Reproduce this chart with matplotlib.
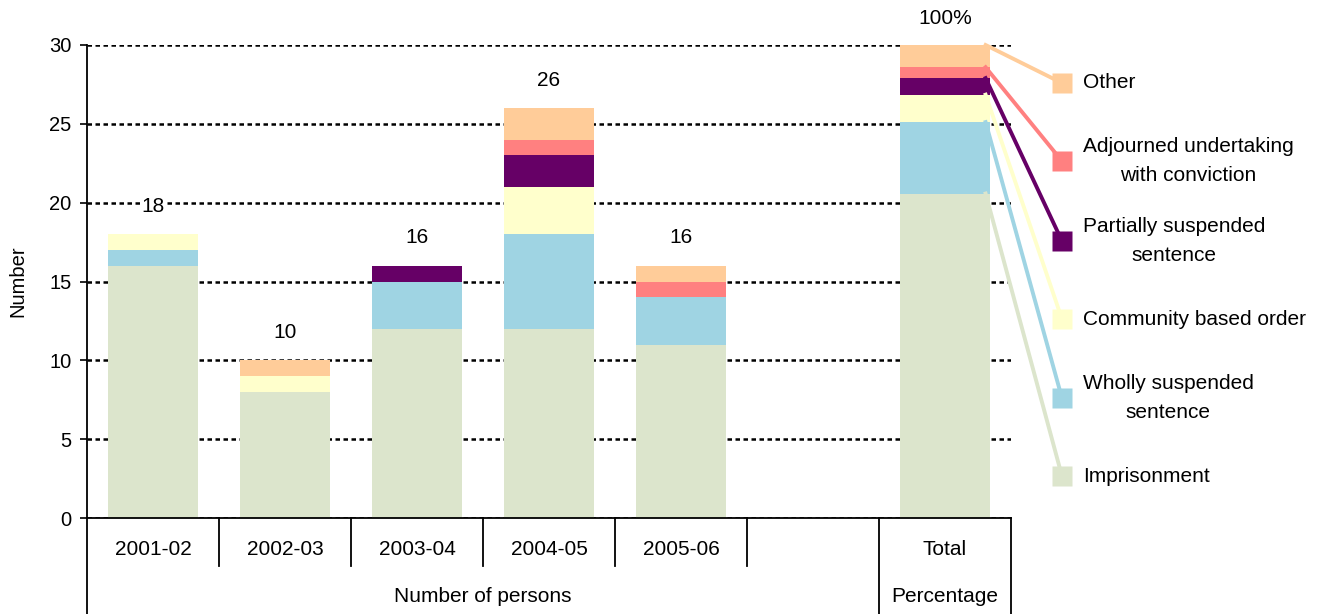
import matplotlib
matplotlib.use("Agg")
import matplotlib.pyplot as plt
from matplotlib.lines import Line2D
import numpy as np

plt.rcParams['font.family'] = ['Liberation Sans', 'DejaVu Sans']

# ---- data ----
years = ["2001-02", "2002-03", "2003-04", "2004-05", "2005-06"]
categories = ["2001-02", "2002-03", "2003-04", "2004-05", "2005-06", "", "Total"]
series_names = ["Imprisonment", "Wholly suspended\nsentence", "Community based order",
                "Partially suspended\nsentence", "Adjourned undertaking\nwith conviction", "Other"]
imprisonment = [16, 8, 12, 12, 11]
wholly_suspended = [1, 0, 3, 6, 3]
community_order = [1, 1, 0, 3, 0]
partially_suspended = [0, 0, 1, 2, 0]
adjourned = [0, 0, 0, 1, 1]
other = [0, 1, 0, 2, 1]
year_totals = ["18", "10", "16", "26", "16"]
total_percent = [68.6, 15.1, 5.8, 3.5, 2.3, 4.7]   # percentage of all persons
total_label = "100%"
colors = ["#DCE5CC", "#9FD4E3", "#FFFFCC", "#660066", "#FF8080", "#FFCC99"]

series = [imprisonment, wholly_suspended, community_order, partially_suspended, adjourned, other]

# ---- figure ----
fig = plt.figure(figsize=(13.19, 6.14), dpi=100)
ax = fig.add_axes([87/1319, 1 - 518/614, 924/1319, 473/614])
FS = 15
TFS = 14.5
ymax = 30.0
width = 0.675

x_years = np.arange(len(years))
x_total = categories.index("Total")

bottom = np.zeros(len(years))
for vals, c in zip(series, colors):
    ax.bar(x_years, vals, width, bottom=bottom, color=c, edgecolor='none', zorder=2)
    bottom += np.array(vals)

# total bar scaled so that 100% == top of axis
tb = 0.0
seg_tops = []
for pct, c in zip(total_percent, colors):
    h = pct * ymax / 100.0
    ax.bar([x_total], [h], width, bottom=[tb], color=c, edgecolor='none', zorder=2)
    tb += h
    seg_tops.append(tb)

# value labels
for xi, top, lab in zip(x_years, bottom, year_totals):
    ax.annotate(lab, (xi, top), xytext=(0, 20), textcoords='offset points',
                ha='center', va='center', fontsize=FS, zorder=4,
                bbox=dict(facecolor='white', edgecolor='none', pad=1))
ax.annotate(total_label, (x_total, tb), xytext=(0, 19), textcoords='offset points',
            ha='center', va='center', fontsize=FS, zorder=4, annotation_clip=False)

ax.set_xlim(-0.5, len(categories) - 0.5)
ax.set_ylim(0, ymax)
ax.set_yticks(np.arange(0, 31, 5))
ax.tick_params(axis='y', direction='out', length=5, width=1.2, labelsize=TFS, pad=6)
ax.set_xticks([])
ax.yaxis.grid(True, color='black', linestyle=(0, (1.8, 1.4)), linewidth=1.8, zorder=1)
ax.set_axisbelow(True)
for s in ['top', 'right']:
    ax.spines[s].set_visible(False)
ax.spines['left'].set_linewidth(1.3)
ax.spines['bottom'].set_linewidth(1.3)
ax.set_ylabel("Number", fontsize=TFS, labelpad=16)

# ---- category table below axis ----
trans = ax.get_xaxis_transform()
y_mid = -0.1015
y_bot = -0.205
for b in np.arange(0.5, 5.0, 1.0):
    ax.add_line(Line2D([b, b], [0, y_mid], transform=trans, color='black', lw=1.3, clip_on=False))
for b in [-0.5, 5.5, 6.5]:
    ax.add_line(Line2D([b, b], [0, y_bot], transform=trans, color='black', lw=1.3, clip_on=False))
for i, lab in enumerate(categories):
    ax.text(i, -0.066, lab, transform=trans, ha='center', va='center', fontsize=FS)
ax.text(2.5, -0.167, "Number of persons", transform=trans, ha='center', va='center', fontsize=FS)
ax.text(x_total, -0.167, "Percentage", transform=trans, ha='center', va='center', fontsize=FS)

# ---- connected legend ----
leg_x = 6.886
leg_y = [2.66, 7.61, 12.62, 17.57, 22.64, 27.59]
x_start = x_total + width / 2 - 0.03
for name, c, top, ly in zip(series_names, colors, seg_tops, leg_y):
    ax.add_line(Line2D([x_start, leg_x], [top, ly], color=c, lw=2.8, clip_on=False, zorder=3))
    ax.plot([leg_x], [ly], marker='s', markersize=14, color=c, markeredgecolor='none',
            clip_on=False, zorder=3)
    ax.annotate(name, (leg_x, ly), xytext=(15, 0), textcoords='offset points',
                ha='left', va='center', multialignment='center', fontsize=FS,
                linespacing=1.7, annotation_clip=False)

fig.savefig("out.png", dpi=100)
